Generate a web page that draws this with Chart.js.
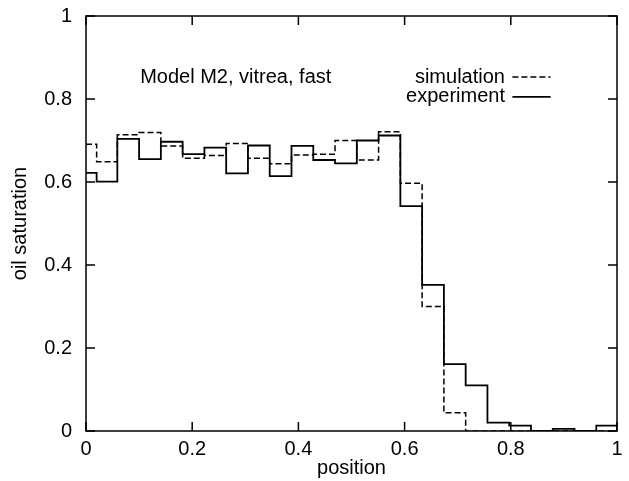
<!DOCTYPE html>
<html><head><meta charset="utf-8">
<script src="https://cdn.jsdelivr.net/npm/chart.js@4.4.1/dist/chart.umd.min.js"></script>
<style>html,body{margin:0;padding:0;background:#fff;} #c{display:block;}</style>
</head><body>
<canvas id="c" width="629" height="481"></canvas>
<script>
// bin edges along "position" (25 bins, first one truncated)
const binEdges = [0, 0.020, 0.059, 0.100, 0.141, 0.182, 0.223, 0.264, 0.305, 0.346, 0.387, 0.428, 0.469, 0.510, 0.551, 0.592, 0.633, 0.674, 0.715, 0.756, 0.797, 0.838, 0.879, 0.920, 0.961, 1.0];
const simulation = [0.691, 0.649, 0.714, 0.719, 0.687, 0.657, 0.664, 0.693, 0.657, 0.644, 0.665, 0.667, 0.700, 0.653, 0.721, 0.597, 0.300, 0.044, 0, 0, 0, 0, 0, 0, 0];
const experiment = [0.622, 0.601, 0.704, 0.655, 0.697, 0.667, 0.683, 0.621, 0.688, 0.614, 0.687, 0.653, 0.645, 0.700, 0.712, 0.542, 0.352, 0.161, 0.110, 0.020, 0.013, 0, 0.005, 0, 0.013];
const axisTicks = [0, 0.2, 0.4, 0.6, 0.8, 1];
const seriesNames = ['simulation', 'experiment'];
const annotationText = 'Model M2, vitrea, fast';
const xTitle = 'position';
const yTitle = 'oil saturation';

const FONT = '"Liberation Sans", Arial, Helvetica, sans-serif';
const FS = 20;

function histPoints(vals) {
  const pts = [];
  vals.forEach((v, i) => {
    pts.push({x: binEdges[i], y: v});
    pts.push({x: binEdges[i + 1], y: v});
  });
  return pts;
}

const decor = {
  id: 'decor',
  afterDatasetsDraw(chart) {
    const {ctx, chartArea: a, scales: {x, y}} = chart;
    ctx.save();
    ctx.strokeStyle = '#000';
    ctx.lineWidth = 1.5;
    ctx.strokeRect(a.left, a.top, a.right - a.left, a.bottom - a.top);
    const L = 9;
    ctx.beginPath();
    axisTicks.forEach(v => {
      const px = x.getPixelForValue(v);
      ctx.moveTo(px, a.bottom); ctx.lineTo(px, a.bottom - L);
      ctx.moveTo(px, a.top); ctx.lineTo(px, a.top + L);
      const py = y.getPixelForValue(v);
      ctx.moveTo(a.left, py); ctx.lineTo(a.left + L, py);
      ctx.moveTo(a.right, py); ctx.lineTo(a.right - L, py);
    });
    ctx.stroke();

    ctx.fillStyle = '#000';
    ctx.font = FS + 'px ' + FONT;
    ctx.textBaseline = 'middle';
    ctx.textAlign = 'left';
    ctx.fillText(annotationText, x.getPixelForValue(0.102), y.getPixelForValue(0.852));

    // legend
    const lx = x.getPixelForValue(0.789);
    const s0 = x.getPixelForValue(0.803), s1 = x.getPixelForValue(0.875);
    const rows = [0.853, 0.805];
    ctx.textAlign = 'right';
    chart.data.datasets.forEach((ds, i) => {
      const py = y.getPixelForValue(rows[i]);
      ctx.fillText(ds.label, lx, py);
      ctx.beginPath();
      ctx.setLineDash(ds.borderDash || []);
      ctx.lineWidth = ds.borderWidth;
      ctx.moveTo(s0, py); ctx.lineTo(s1, py);
      ctx.stroke();
    });
    ctx.restore();
  }
};

new Chart(document.getElementById('c'), {
  type: 'line',
  data: {
    datasets: [
      {label: seriesNames[0], data: histPoints(simulation), borderColor: '#000', borderWidth: 1.5, borderDash: [6, 3], pointRadius: 0, fill: false, tension: 0},
      {label: seriesNames[1], data: histPoints(experiment), borderColor: '#000', borderWidth: 1.8, pointRadius: 0, fill: false, tension: 0}
    ]
  },
  options: {
    responsive: false,
    animation: false,
    devicePixelRatio: 1,
    layout: {padding: {left: 0, right: 12, top: 16, bottom: 0}},
    plugins: {legend: {display: false}, tooltip: {enabled: false}},
    scales: {
      x: {
        type: 'linear', min: 0, max: 1,
        grid: {display: false, drawTicks: false},
        border: {display: false},
        afterBuildTicks: s => { s.ticks = axisTicks.map(v => ({value: v})); },
        ticks: {color: '#000', font: {family: FONT, size: FS}, padding: 6, maxRotation: 0, autoSkip: false, callback: v => String(v)},
        title: {display: true, text: xTitle, color: '#000', font: {family: FONT, size: FS, lineHeight: 1.2}, padding: {top: 0, bottom: 1}},
        afterFit: s => { s.height = 50; s.paddingLeft = 0; s.paddingRight = 0; }
      },
      y: {
        type: 'linear', min: 0, max: 1,
        grid: {display: false, drawTicks: false},
        border: {display: false},
        afterBuildTicks: s => { s.ticks = axisTicks.map(v => ({value: v})); },
        ticks: {color: '#000', font: {family: FONT, size: FS}, padding: 14, autoSkip: false, callback: v => String(v)},
        title: {display: true, text: yTitle, color: '#000', font: {family: FONT, size: FS, lineHeight: 1.2}, padding: {top: 8, bottom: 0}},
        afterFit: s => { s.width = 86; s.paddingTop = 0; s.paddingBottom = 0; }
      }
    }
  },
  plugins: [decor]
});
</script>
</body></html>
